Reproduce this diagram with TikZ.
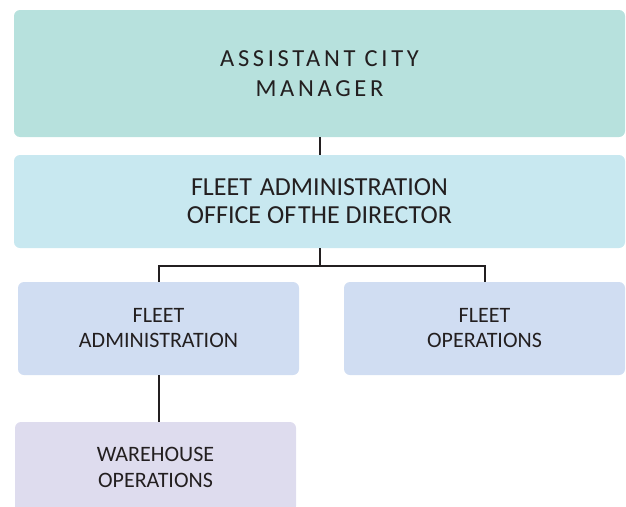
\documentclass[tikz,border=0pt]{standalone}
\usepackage{fontspec}
\setmainfont{Carlito}
\newfontfamily\spacedfont[LetterSpace=15]{Carlito}
\usepackage{tikz}
\usetikzlibrary{positioning}
\usepackage{xcolor}
\definecolor{ink}{HTML}{231F20}
\definecolor{tealfill}{HTML}{B7E1DD}
\definecolor{skyfill}{HTML}{C8E8F0}
\definecolor{bluefill}{HTML}{D0DDF2}
\definecolor{lilacfill}{HTML}{DEDCEE}
\tikzset{
  box/.style={draw=none, rounded corners=6pt, align=center, text=ink, inner sep=0pt, minimum width=281pt, minimum height=93pt},
  topbox/.style={box, fill=tealfill, minimum width=611pt, minimum height=127pt, font=\spacedfont\fontsize{24.5}{30}\selectfont},
  dirbox/.style={box, fill=skyfill, minimum width=611pt, font=\fontsize{26}{28}\selectfont},
  unitbox/.style={box, fill=bluefill, font=\fontsize{22}{25}\selectfont},
  subbox/.style={box, fill=lilacfill, minimum height=90pt, font=\fontsize{22}{26}\selectfont},
  link/.style={draw=ink, line width=2pt}
}

\begin{document}
\begin{tikzpicture}[x=1pt, y=-1pt]
  \useasboundingbox (0,0) rectangle (626,506);
  \clip (0,0) rectangle (626,506);

  % management levels
  \node[topbox] (acm) at (319.5,73.5) {ASSISTANT CITY\\MANAGER};
  \node[dirbox] (director) at (319.5,201.5) {FLEET\hspace{8pt}ADMINISTRATION\\OFFICE OF\kern2pt THE DIRECTOR};

  % divisions
  \node[unitbox] (admin) at (158.5,328.5) {FLEET\\ADMINISTRATION};
  \node[unitbox] (ops) at (484.5,328.5) {FLEET\\OPERATIONS};
  \node[subbox] (warehouse) at (155.5,467) {WAREHOUSE\\OPERATIONS};

  % reporting lines
  \draw[link] (acm.south) -- (director.north);
  \coordinate (split) at ([yshift=-18pt]director.south);
  \draw[link] (director.south) -- (split) -| (admin.north);
  \draw[link] (split) -| (ops.north);
  \draw[link] (admin.south) -- (admin.south |- warehouse.north);
\end{tikzpicture}
\end{document}
